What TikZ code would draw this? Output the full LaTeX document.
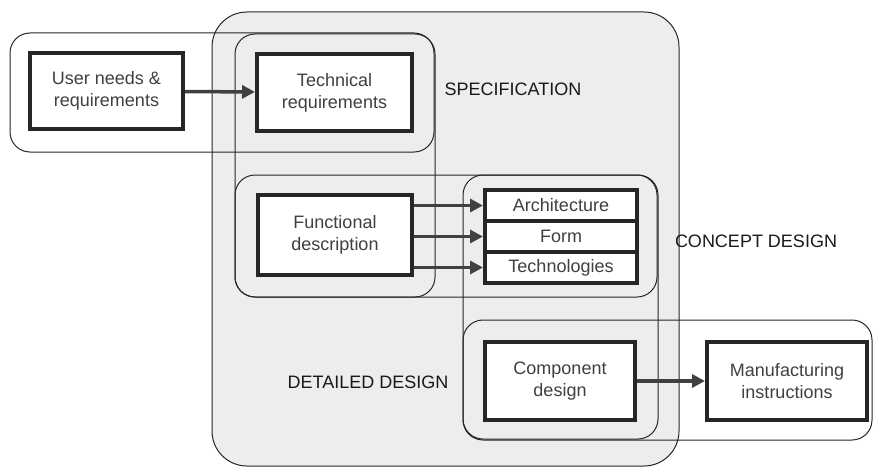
\documentclass[tikz,border=0pt]{standalone}
\usepackage{fontspec}
\setmainfont{Liberation Sans}
\usetikzlibrary{calc, arrows.meta}

\begin{document}
\begin{tikzpicture}[x=1pt, y=-1pt,
        stage/.style={draw=black!85, line width=1pt, rounded corners=20pt},
        box/.style={draw=black!85, line width=4pt, fill=white, align=center, inner sep=0pt,
            font=\fontsize{18}{22}\selectfont, text=black!75},
        flow/.style={line width=3.5pt, draw=black!75, -{Triangle[length=13pt, width=13pt]}},
        phase/.style={font=\fontsize{18}{22}\selectfont, text=black!90}]
    \useasboundingbox (0,0) rectangle (874,468);

    % Design area
    \filldraw[fill=black!7, draw=black!85, line width=1pt, rounded corners=35pt] (212,12) rectangle (679,466);

    % Overlapping stages
    \draw[stage] (10,33) rectangle (434,152);
    \draw[stage] (235,34) rectangle (435,297);
    \draw[stage] (235,175) rectangle (657,297);
    \draw[stage] (463,175) rectangle (658,439);
    \draw[stage] (463,320) rectangle (872,440);

    % Boxes
    \node[box, minimum width=153pt, minimum height=76pt] (user) at (106.5,91) {User needs \&\\requirements};
    \node[box, minimum width=155pt, minimum height=77pt] (techreq) at (334.5,92.5) {Technical\\requirements};
    \node[box, minimum width=154pt, minimum height=80pt] (func) at (335,235) {Functional\\description};
    \node[box, minimum width=152pt, minimum height=31pt] (arch) at (561,205.5) {Architecture};
    \node[box, minimum width=152pt, minimum height=31pt] (form) at (561,236.5) {Form};
    \node[box, minimum width=152pt, minimum height=31pt] (techn) at (561,267.5) {Technologies};
    \node[box, minimum width=150pt, minimum height=78pt] (comp) at (560,381) {Component\\design};
    \node[box, minimum width=160pt, minimum height=78pt] (manu) at (787,381) {Manufacturing\\instructions};

    % Flows
    \draw[flow] (user) -- (techreq);
    \draw[flow] (func.east |- arch) -- (arch);
    \draw[flow] (func.east |- form) -- (form);
    \draw[flow] (func.east |- techn) -- (techn);
    \draw[flow] (comp) -- (manu);

    % Stage names
    \node[phase] (spec) at (513,89) {SPECIFICATION};
    \node[phase] (concept) at (756,241) {CONCEPT DESIGN};
    \node[phase] (detail) at (368,382) {DETAILED DESIGN};
\end{tikzpicture}
\end{document}
